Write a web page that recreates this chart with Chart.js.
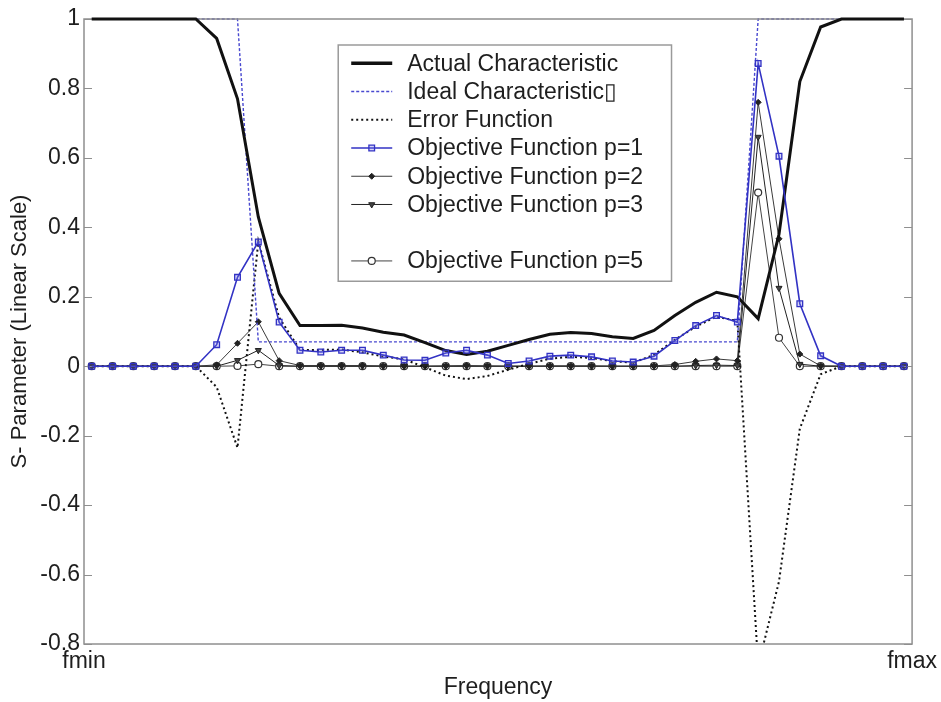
<!DOCTYPE html>
<html>
<head>
<meta charset="utf-8">
<script src="https://cdn.jsdelivr.net/npm/chart.js@4/dist/chart.umd.min.js"></script>
<style>
html,body{margin:0;padding:0;background:#fff;}
#c{display:block;}
</style>
</head>
<body>
<canvas id="c" width="941" height="702"></canvas>
<script>
// ---- data ----
const frequency = [0,1,2,3,4,5,6,7,8,9,10,11,12,13,14,15,16,17,18,19,20,21,22,23,24,25,26,27,28,29,30,31,32,33,34,35,36,37,38,39];
const actualChar = [1,1,1,1,1,1,0.944,0.77,0.43,0.21,0.117,0.117,0.118,0.11,0.098,0.09,0.068,0.045,0.034,0.043,0.06,0.077,0.092,0.097,0.094,0.085,0.08,0.103,0.146,0.184,0.213,0.2,0.137,0.38,0.82,0.977,1,1,1,1];
const idealChar = [1,1,1,1,1,1,1,1,0.07,0.07,0.07,0.07,0.07,0.07,0.07,0.07,0.07,0.07,0.07,0.07,0.07,0.07,0.07,0.07,0.07,0.07,0.07,0.07,0.07,0.07,0.07,0.07,1,1,1,1,1,1,1,1];
const errorFn = [0,0,0,0,0,0,-0.06,-0.235,0.36,0.14,0.047,0.047,0.048,0.04,0.028,0.02,-0.003,-0.027,-0.037,-0.028,-0.01,0.007,0.022,0.027,0.024,0.015,0.01,0.033,0.076,0.114,0.143,0.13,-0.863,-0.62,-0.18,-0.023,0,0,0,0];
const objP1 = [0,0,0,0,0,0,0.062,0.256,0.358,0.127,0.046,0.041,0.046,0.046,0.032,0.018,0.017,0.038,0.046,0.032,0.008,0.015,0.029,0.032,0.027,0.015,0.012,0.029,0.074,0.117,0.146,0.127,0.872,0.605,0.18,0.03,0,0,0,0];
const objP2 = [0,0,0,0,0,0,0.004,0.066,0.128,0.016,0.002,0.002,0.002,0.002,0.001,0,0,0.001,0.002,0.001,0,0,0.001,0.001,0.001,0,0,0.001,0.005,0.014,0.021,0.016,0.76,0.367,0.035,0.001,0,0,0,0];
const objP3 = [0,0,0,0,0,0,0,0.017,0.046,0.002,0,0,0,0,0,0,0,0,0,0,0,0,0,0,0,0,0,0,0,0.002,0.003,0.002,0.66,0.225,0.006,0,0,0,0,0];
const objP5 = [0,0,0,0,0,0,0,0.001,0.006,0,0,0,0,0,0,0,0,0,0,0,0,0,0,0,0,0,0,0,0,0,0,0,0.5,0.082,0,0,0,0,0,0];
const xTickLabels = ['fmin','fmax'];
const yTickValues = [1,0.8,0.6,0.4,0.2,0,-0.2,-0.4,-0.6,-0.8];
const seriesNames = ['Actual Characteristic','Ideal Characteristic\u25AF','Error Function','Objective Function p=1','Objective Function p=2','Objective Function p=3','Objective Function p=5'];

const FONT = '"Liberation Sans", Arial, Helvetica, sans-serif';
const pts = arr => frequency.map((f,i)=>({x:f,y:arr[i]}));

const datasets = [
  {label:seriesNames[0], data:pts(actualChar), borderColor:'#111', borderWidth:3, pointRadius:0, clip:4, order:2},
  {label:seriesNames[1], data:pts(idealChar), borderColor:'#4848d0', borderWidth:1.4, borderDash:[3,2], pointRadius:0, clip:4, order:3},
  {label:seriesNames[2], data:pts(errorFn), borderColor:'#111', borderWidth:2, borderDash:[2,3], pointRadius:0, clip:0, order:4},
  {label:seriesNames[3], data:pts(objP1), borderColor:'#3232c4', borderWidth:1.6, pointStyle:'rect', pointRadius:4, pointBorderWidth:1.3, pointBackgroundColor:'rgba(120,120,230,0.3)', pointBorderColor:'#3232c4', clip:2, order:1},
  {label:seriesNames[4], data:pts(objP2), borderColor:'#3a3a3a', borderWidth:1, pointStyle:'rectRot', pointRadius:3, pointBorderWidth:1, pointBackgroundColor:'#222', pointBorderColor:'#222', clip:2, order:5},
  {label:seriesNames[5], data:pts(objP3), borderColor:'#222', borderWidth:1, pointStyle:'triangle', pointRotation:180, pointRadius:3.5, pointBorderWidth:1, pointBackgroundColor:'#444', pointBorderColor:'#222', clip:2, order:6},
  {label:seriesNames[6], data:pts(objP5), borderColor:'#444', borderWidth:1, pointStyle:'circle', pointRadius:3.5, pointBorderWidth:1.2, pointBackgroundColor:'#fff', pointBorderColor:'#333', clip:2, order:7}
];

function drawFrame(chart){
  const {ctx, chartArea:a, scales:{y}} = chart;
  ctx.save();
  ctx.strokeStyle = '#8f8f8f';
  ctx.lineWidth = 1.5;
  ctx.setLineDash([]);
  ctx.strokeRect(a.left, a.top, a.right-a.left, a.bottom-a.top);
  ctx.lineWidth = 1;
  y.ticks.forEach(t=>{
    const py = Math.round(y.getPixelForValue(t.value))+0.5;
    ctx.beginPath();
    ctx.moveTo(a.left, py); ctx.lineTo(a.left+8, py);
    ctx.moveTo(a.right-8, py); ctx.lineTo(a.right, py);
    ctx.stroke();
  });
  ctx.restore();
}

function drawMarker(ctx, ds, x, y){
  if(!ds.pointRadius) return;
  ctx.fillStyle = ds.pointBackgroundColor;
  ctx.strokeStyle = ds.pointBorderColor;
  ctx.lineWidth = ds.pointBorderWidth;
  ctx.setLineDash([]);
  Chart.helpers.drawPoint(ctx, {pointStyle:ds.pointStyle, radius:ds.pointRadius, rotation:ds.pointRotation||0, borderWidth:ds.pointBorderWidth}, x, y);
}

const legendPlugin = {
  id:'boxLegend',
  beforeDatasetDraw(chart, args){
    // frame goes over the ideal line but under the actual characteristic
    if(args.index === 0) drawFrame(chart);
  },
  afterDatasetsDraw(chart){
    const {ctx, chartArea:a} = chart;
    const W = a.right-a.left, H = a.bottom-a.top;
    const bx = a.left + 0.307*W, by = a.top + 0.0416*H;
    const bw = 0.4025*W, bh = 0.378*H;
    ctx.save();
    ctx.fillStyle = '#fff';
    ctx.fillRect(bx, by, bw, bh);
    ctx.strokeStyle = '#9a9a9a';
    ctx.lineWidth = 1.5;
    ctx.strokeRect(bx, by, bw, bh);
    const rows = [0,1,2,3,4,5,null,6];
    const step = bh/8.37;
    rows.forEach((di, r)=>{
      if(di===null) return;
      const ds = chart.data.datasets[di];
      const cy = by + step*0.65 + r*step;
      const x0 = bx + 13, x1 = bx + 54;
      ctx.save();
      ctx.strokeStyle = ds.borderColor;
      ctx.lineWidth = di===0 ? 3.5 : ds.borderWidth;
      ctx.setLineDash(ds.borderDash||[]);
      ctx.beginPath(); ctx.moveTo(x0, cy); ctx.lineTo(x1, cy); ctx.stroke();
      ctx.restore();
      ctx.save();
      drawMarker(ctx, ds, (x0+x1)/2, cy);
      ctx.restore();
      ctx.fillStyle = '#1e1e1e';
      ctx.font = '23px ' + FONT;
      ctx.textBaseline = 'middle';
      ctx.textAlign = 'left';
      ctx.fillText(ds.label, bx + 69, cy+1);
    });
    ctx.restore();
  }
};

new Chart(document.getElementById('c'), {
  type:'line',
  data:{datasets},
  options:{
    responsive:false,
    animation:false,
    devicePixelRatio:1,
    parsing:true,
    layout:{padding:{left:0, right:26, top:19, bottom:0}},
    elements:{line:{tension:0}},
    plugins:{legend:{display:false}, tooltip:{enabled:false}},
    scales:{
      x:{
        type:'linear', min:-0.37, max:39.39,
        grid:{display:false, drawTicks:false},
        border:{display:false},
        afterBuildTicks(s){ s.ticks = [{value:s.min},{value:s.max}]; },
        afterFit(s){ s.height = 58; },
        ticks:{autoSkip:false, maxRotation:0, padding:4, color:'#1e1e1e', font:{family:FONT, size:23},
          callback(v){ return v===this.min ? xTickLabels[0] : xTickLabels[1]; }},
        title:{display:true, text:'Frequency', color:'#1e1e1e', font:{family:FONT, size:23}, padding:{top:0,bottom:1}}
      },
      y:{
        type:'linear', min:-0.8, max:1,
        grid:{display:false, drawTicks:false},
        border:{display:false},
        afterBuildTicks(s){ s.ticks = yTickValues.map(v=>({value:v})); },
        afterFit(s){ s.width = 84; },
        ticks:{padding:4, color:'#1e1e1e', font:{family:FONT, size:23},
          callback(v){ return String(Math.round(v*10)/10); }},
        title:{display:true, text:'S- Parameter (Linear Scale)', color:'#1e1e1e', font:{family:FONT, size:22}, padding:{top:7,bottom:0}}
      }
    }
  },
  plugins:[legendPlugin]
});
</script>
</body>
</html>
